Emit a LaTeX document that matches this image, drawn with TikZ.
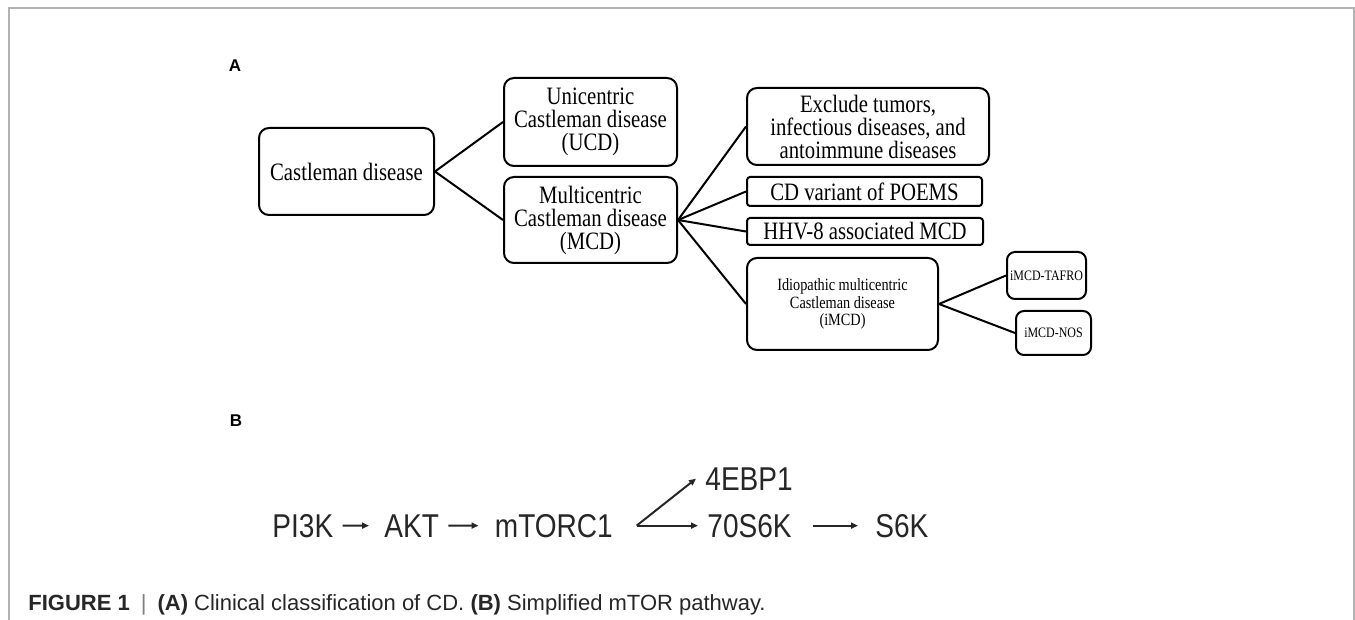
\documentclass[tikz,border=0pt]{standalone}
\usepackage{fontspec}
\setmainfont{Liberation Serif}
\newfontfamily\treefont[FakeStretch=0.83]{Liberation Serif}
\newfontfamily\pathfont[FakeStretch=0.85]{Liberation Sans}
\newfontfamily\capfont{Liberation Sans}
\usetikzlibrary{arrows.meta}

\begin{document}
\begin{tikzpicture}[x=0.5pt,y=-0.5pt,
        box/.style={draw,line width=1pt,rounded corners=5pt,align=center,
        inner sep=0pt,font=\treefont\fontsize{12.5}{11.5}\selectfont},
        flatbox/.style={box,rounded corners=1.5pt},
        smallbox/.style={box,font=\treefont\fontsize{8.6}{8.6}\selectfont},
        tinybox/.style={box,rounded corners=4pt,font=\treefont\fontsize{7.2}{8}\selectfont},
        link/.style={line width=1pt},
        gene/.style={anchor=base west,inner xsep=4.5pt,inner ysep=0pt,text=black!85,
        font=\pathfont\fontsize{16.5}{18}\selectfont},
        pathway/.style={line width=1pt,black!85,-{Triangle[length=3.5pt,width=3pt]}},
        panel/.style={inner sep=0pt,font=\capfont\bfseries\fontsize{8.5}{10}\selectfont}]
        \useasboundingbox (0,0) rectangle (1355,620);

        % frame
        \draw[gray!60,line width=0.75pt] (9,620) -- (9,8) -- (1354,8) -- (1354,620);

        % A: classification
        \node[panel] (pa) at (235,66) {A};
        \node[box,minimum width=87.5pt,minimum height=43.5pt] (cd) at (346.5,171.5) {Castleman disease};
        \node[box,minimum width=86.5pt,minimum height=44pt] (ucd) at (590.5,122) {Unicentric\\Castleman disease\\(UCD)};
        \node[box,minimum width=86.5pt,minimum height=43pt] (mcd) at (590.5,220) {Multicentric\\Castleman disease\\(MCD)};
        \node[box,minimum width=121pt,minimum height=38.5pt] (excl) at (868,126.5) {Exclude tumors,\\infectious diseases, and\\antoimmune diseases};
        \node[flatbox,minimum width=117.5pt,minimum height=14.5pt] (poems) at (864.5,191.5) {CD variant of POEMS};
        \node[flatbox,minimum width=118pt,minimum height=13.5pt] (hhv) at (865,231.5) {HHV-8 associated MCD};
        \node[smallbox,minimum width=95.5pt,minimum height=46pt] (imcd) at (842.5,304) {Idiopathic multicentric\\Castleman disease\\(iMCD)};
        \node[tinybox,minimum width=39.5pt,minimum height=23.5pt] (tafro) at (1046.5,275.5) {iMCD-TAFRO};
        \node[tinybox,minimum width=37.5pt,minimum height=22pt] (nos) at (1053.5,333) {iMCD-NOS};

        \draw[link] (cd.east) -- (ucd.west);
        \draw[link] (cd.east) -- (mcd.west);
        \foreach \t in {excl,poems,hhv,imcd}
            \draw[link] (mcd.east) -- (\t.west);
        \foreach \t in {tafro,nos}
            \draw[link] (imcd.east) -- (\t.west);

        % B: mTOR pathway
        \node[panel] (pb) at (236,421) {B};
        \node[gene] (pik) at (263,537) {PI3K};
        \node[gene] (akt) at (375,537) {AKT};
        \node[gene] (mtor) at (485.5,537) {mTORC1};
        \node[gene] (ebp) at (696,490) {4EBP1};
        \node[gene] (s70) at (698,537) {70S6K};
        \node[gene] (s6k) at (866,537) {S6K};
        \coordinate (fork) at ([xshift=7.2pt]mtor.east);

        \draw[pathway,shorten >=3pt] (pik) -- (akt);
        \draw[pathway,shorten >=3.5pt] (akt) -- (mtor);
        \draw[pathway] (fork) -- (ebp.west);
        \draw[pathway] (fork) -- (s70.west);
        \draw[pathway,shorten <=6pt,shorten >=4pt] (s70) -- (s6k);

        % caption
        \node[anchor=base west,inner sep=0pt,text=black!85,font=\capfont\fontsize{11}{13}\selectfont] (cap) at (28,610)
            {\textbf{FIGURE 1}\enspace{\color{gray}|}\enspace\textbf{(A)} Clinical classification of CD. \textbf{(B)} Simplified mTOR pathway.};
\end{tikzpicture}
\end{document}
